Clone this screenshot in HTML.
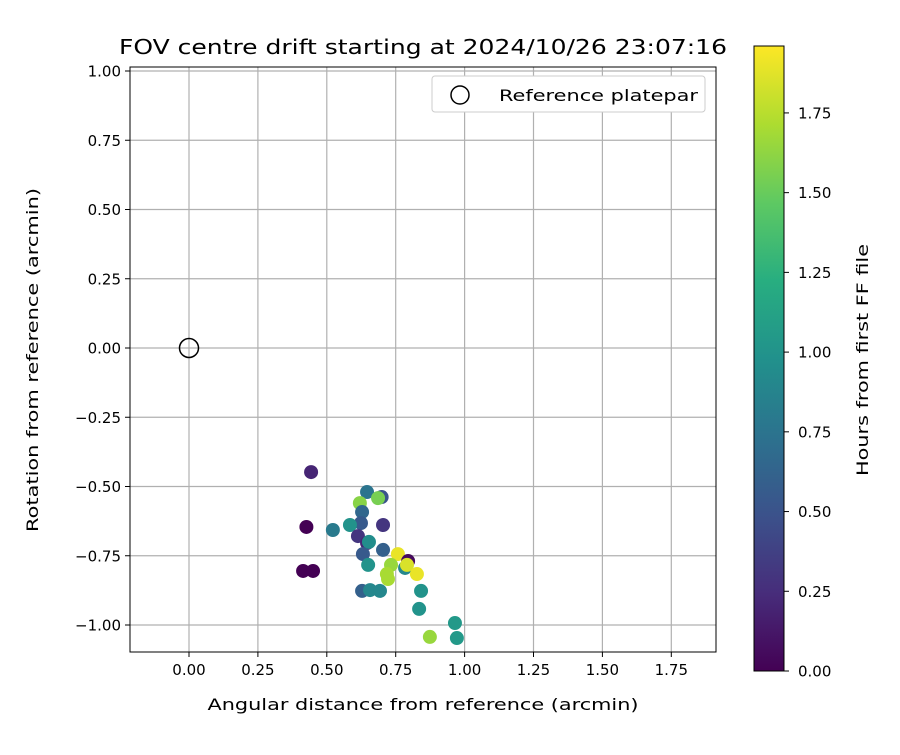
<!DOCTYPE html>
<html><head><meta charset="utf-8"><style>
body{margin:0;background:#fff}
svg{font-family:"DejaVu Sans","Liberation Sans",sans-serif}
</style></head><body>
<svg id="chart" width="900" height="750" xmlns="http://www.w3.org/2000/svg">
<defs>
<linearGradient id="vir" x1="0" y1="1" x2="0" y2="0">
<stop offset="0" stop-color="#440154"/><stop offset="0.125" stop-color="#472d7b"/><stop offset="0.25" stop-color="#3b528b"/><stop offset="0.375" stop-color="#2c728e"/><stop offset="0.5" stop-color="#21918c"/><stop offset="0.625" stop-color="#28ae80"/><stop offset="0.75" stop-color="#5ec962"/><stop offset="0.875" stop-color="#addc30"/><stop offset="1" stop-color="#fde725"/>
</linearGradient>
</defs>
<rect width="900" height="750" fill="#fff"/>
<g id="grid"></g>
<g id="points"></g>
<rect x="130" y="67" width="586" height="585" fill="none" stroke="#000" stroke-width="1"/>
<g id="ticks" font-size="15"></g>
<text x="423" y="54" text-anchor="middle" font-size="20" textLength="608" lengthAdjust="spacingAndGlyphs">FOV centre drift starting at 2024/10/26 23:07:16</text>
<text x="423" y="710" text-anchor="middle" font-size="16" textLength="431" lengthAdjust="spacingAndGlyphs">Angular distance from reference (arcmin)</text>
<text transform="translate(38,360) rotate(-90)" text-anchor="middle" font-size="16" textLength="344" lengthAdjust="spacingAndGlyphs">Rotation from reference (arcmin)</text>
<g>
<rect x="432" y="76" width="273" height="36" rx="3" fill="#fff" stroke="#ccc"/>
<circle cx="460" cy="95" r="9" fill="none" stroke="#000" stroke-width="1.5"/>
<text x="499" y="101" font-size="16" textLength="199" lengthAdjust="spacingAndGlyphs">Reference platepar</text>
</g>
<rect x="754" y="46" width="30" height="625" fill="url(#vir)" stroke="#000" stroke-width="1"/>
<g id="cbticks" font-size="15"></g>
<text transform="translate(868,360) rotate(-90)" text-anchor="middle" font-size="16" textLength="232" lengthAdjust="spacingAndGlyphs">Hours from first FF file</text>
</svg>
<script>
const xVals=[0.443,0.426,0.414,0.450,0.646,0.699,0.620,0.686,0.628,0.624,0.584,0.522,0.704,0.613,0.646,0.653,0.704,0.631,0.758,0.795,0.784,0.791,0.827,0.650,0.733,0.718,0.722,0.628,0.657,0.693,0.842,0.835,0.965,0.972,0.874];
const yVals=[-0.448,-0.646,-0.805,-0.805,-0.520,-0.538,-0.560,-0.542,-0.592,-0.632,-0.639,-0.657,-0.639,-0.679,-0.704,-0.700,-0.729,-0.744,-0.744,-0.769,-0.794,-0.783,-0.816,-0.783,-0.783,-0.816,-0.834,-0.877,-0.874,-0.877,-0.877,-0.942,-0.993,-1.047,-1.043];
const hours=[0.2,0.0,0.0,0.0,0.75,0.5,1.6,1.55,0.65,0.55,1.0,0.8,0.3,0.3,0.2,0.95,0.6,0.55,1.9,0.05,0.9,1.85,1.9,1.0,1.65,1.7,1.7,0.6,0.9,0.9,1.0,1.0,1.05,1.05,1.65];
const xTicks=[0,0.25,0.5,0.75,1.0,1.25,1.5,1.75];
const yTicks=[1.0,0.75,0.5,0.25,0,-0.25,-0.5,-0.75,-1.0];
const cTicks=[0,0.25,0.5,0.75,1.0,1.25,1.5,1.75];
const NS='http://www.w3.org/2000/svg';
const X=v=>189+v*275.6, Y=v=>348-v*277, C=v=>671-v*318.9;
const vir=['#440154','#472d7b','#3b528b','#2c728e','#21918c','#28ae80','#5ec962','#addc30','#fde725'];
function hex(h){return [1,3,5].map(i=>parseInt(h.substr(i,2),16));}
function col(v){let t=Math.max(0,Math.min(1,v/1.96))*8,i=Math.min(7,Math.floor(t)),f=t-i,a=hex(vir[i]),b=hex(vir[i+1]);return 'rgb('+a.map((c,k)=>Math.round(c+(b[k]-c)*f)).join(',')+')';}
function mk(tag,attrs,parent,txt){const e=document.createElementNS(NS,tag);for(const k in attrs)e.setAttribute(k,attrs[k]);if(txt!==undefined)e.textContent=txt;parent.appendChild(e);return e;}
const fmt=v=>(v<0?'\u2212':'')+Math.abs(v).toFixed(2);
const g=document.getElementById('grid'),tk=document.getElementById('ticks'),pts=document.getElementById('points'),cb=document.getElementById('cbticks');
xTicks.forEach(v=>{
 const l=mk('line',{x1:X(v),x2:X(v),y1:67,y2:652,stroke:'#b0b0b0','stroke-width':1.2},g);
 
 
 mk('line',{x1:X(v),x2:X(v),y1:652,y2:657,stroke:'#000'},tk);
 const t=mk('text',{x:X(v),y:675,'text-anchor':'middle'},tk,fmt(v));
 
 
});
yTicks.forEach(v=>{
 const l=mk('line',{x1:130,x2:716,y1:Y(v),y2:Y(v),stroke:'#b0b0b0','stroke-width':1.2},g);
 
 
 mk('line',{x1:125,x2:130,y1:Y(v),y2:Y(v),stroke:'#000'},tk);
 const t=mk('text',{x:121,y:Y(v)+5.5,'text-anchor':'end'},tk,fmt(v));
 
 
});
cTicks.forEach(v=>{
 mk('line',{x1:784,x2:789,y1:C(v),y2:C(v),stroke:'#000'},cb);
 const t=mk('text',{x:798,y:C(v)+5.5},cb,v.toFixed(2));
 
 
});
const ref=mk('circle',{cx:X(0),cy:Y(0),r:9.5,fill:'none',stroke:'#000','stroke-width':1.5},pts);


hours.forEach((h,i)=>{
 const c=mk('circle',{cx:X(xVals[i]),cy:Y(yVals[i]),r:7,fill:col(h)},pts);
 
 
});
</script>
</body></html>
